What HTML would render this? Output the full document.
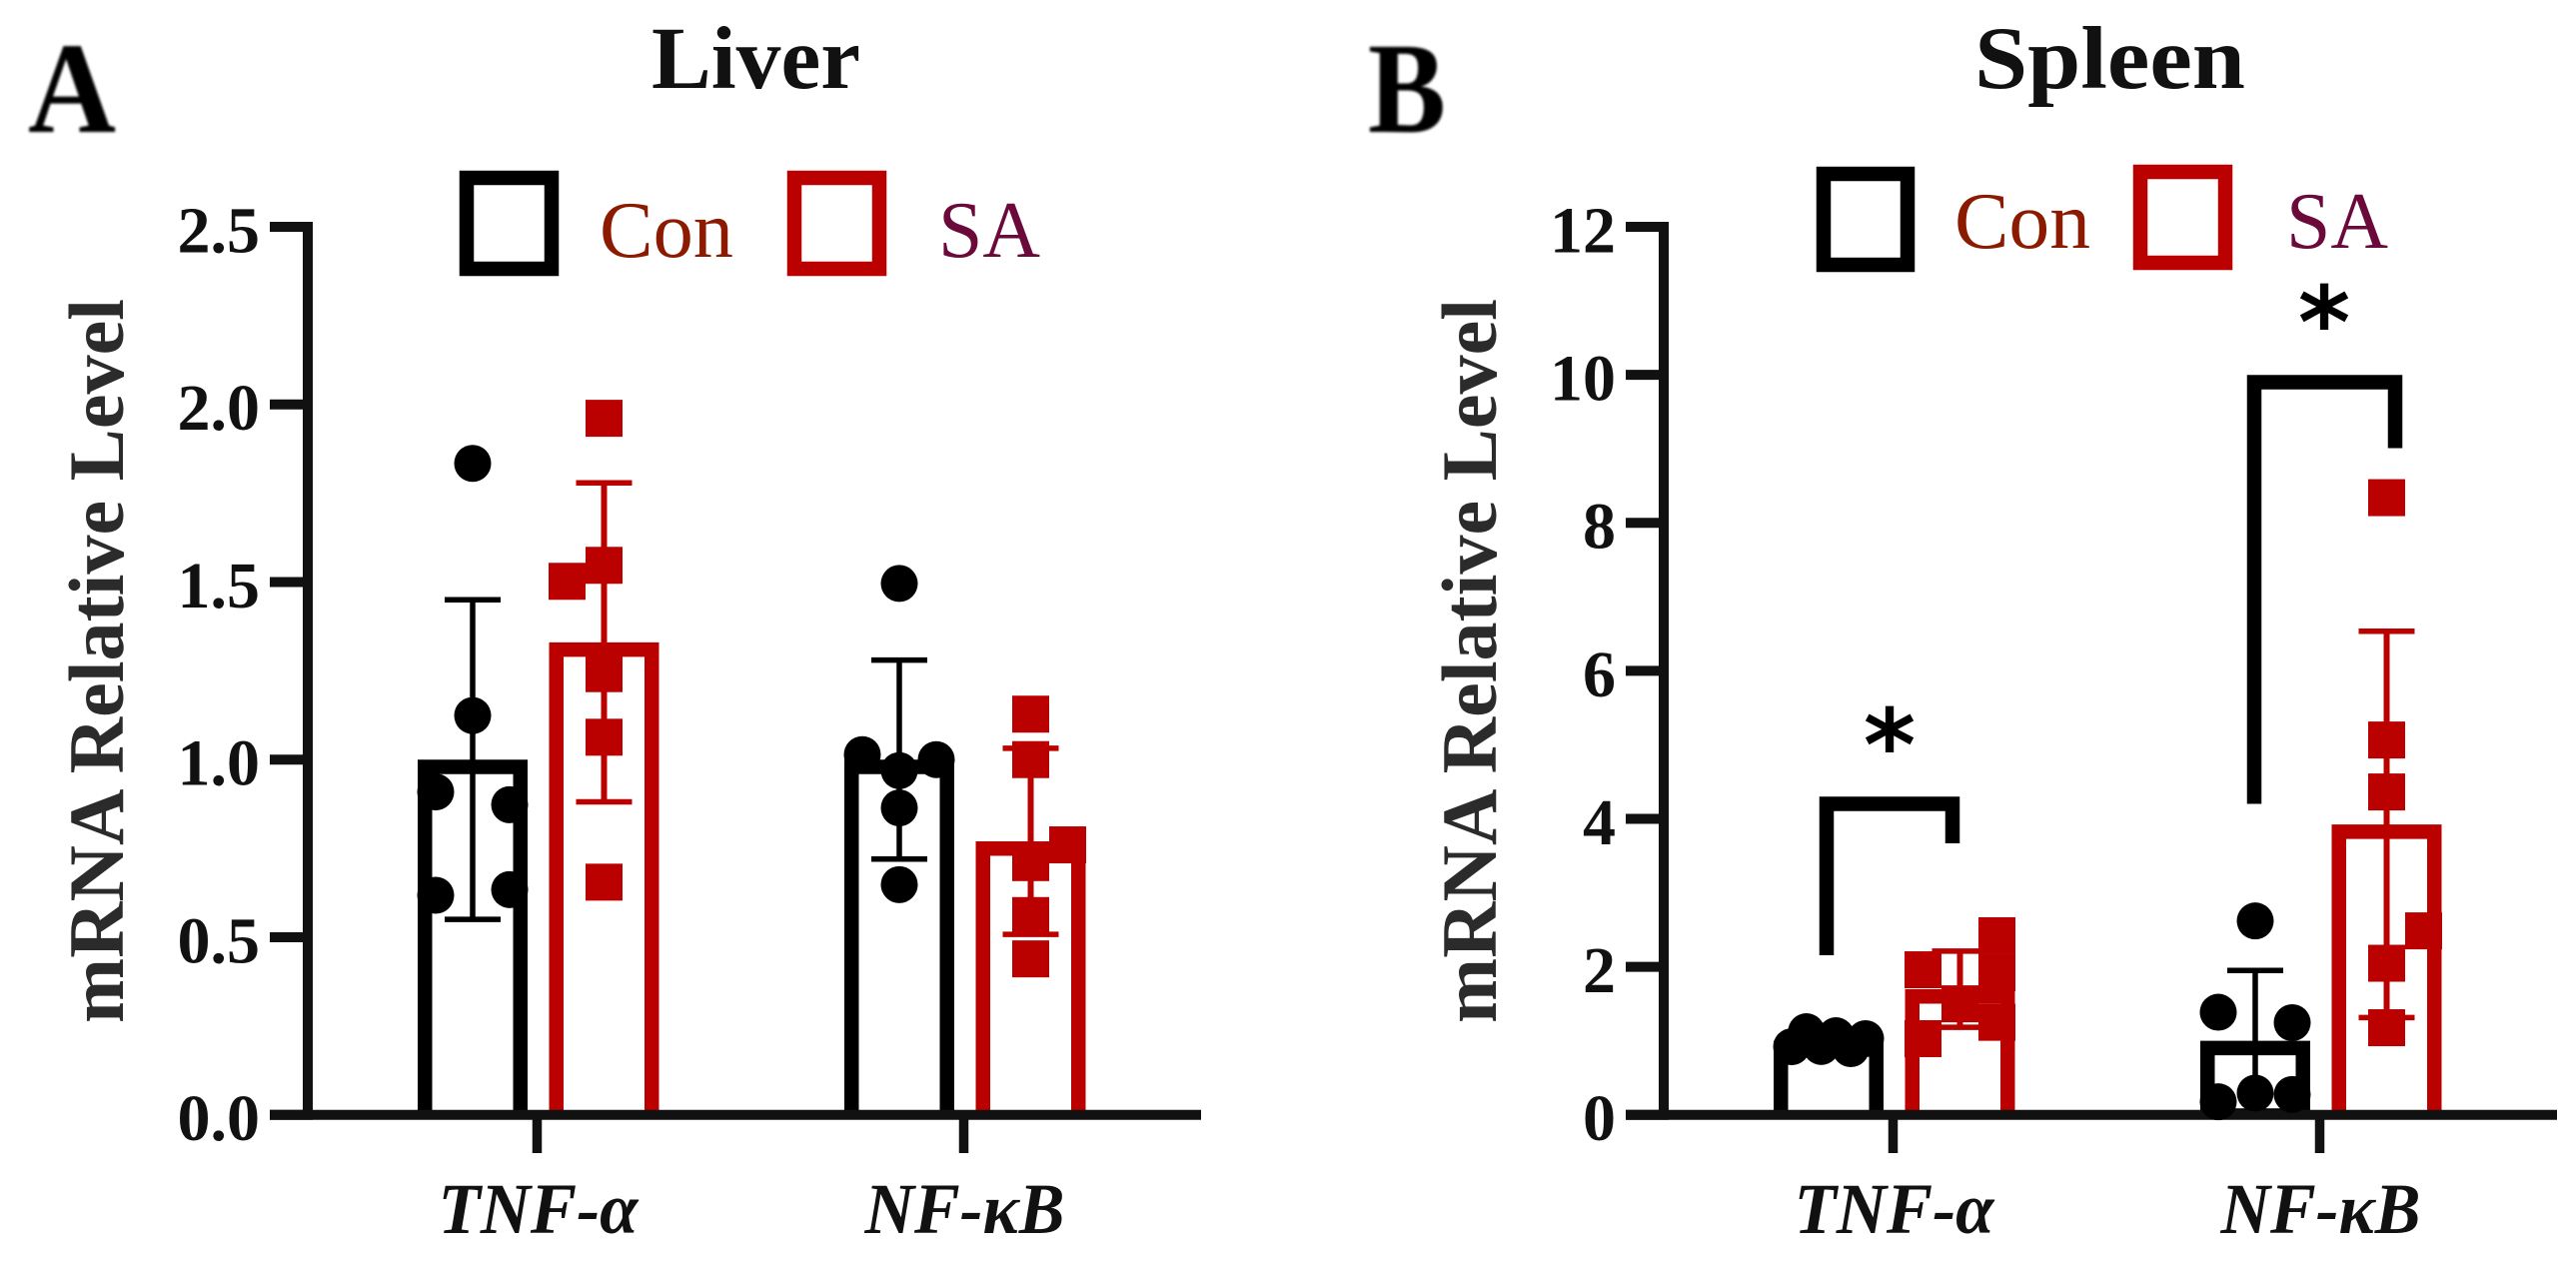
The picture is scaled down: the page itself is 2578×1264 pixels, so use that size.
<!DOCTYPE html>
<html lang="en">
<head>
<meta charset="utf-8">
<title>mRNA Relative Level in Liver and Spleen</title>
<style>
html,body{margin:0;padding:0;background:#fff;}
svg{display:block;}
text{font-family:"Liberation Serif",serif;}
.title{font-size:89px;font-weight:bold;fill:#111;}
.letter{font-size:130px;font-weight:bold;fill:#000;}
.legend-text{font-size:80px;}
.ytitle{font-size:78px;font-weight:bold;fill:#2b2b2b;}
.tick{font-size:66px;font-weight:bold;fill:#111;text-anchor:end;}
.cat{font-size:72px;font-weight:bold;font-style:italic;fill:#111;text-anchor:middle;}
.star{font-family:"DejaVu Sans",sans-serif;font-size:100px;font-weight:bold;fill:#000;text-anchor:middle;}
</style>
</head>
<body>
<svg id="fig" xmlns="http://www.w3.org/2000/svg" width="2578" height="1264" viewBox="0 0 2578 1264">
<defs><filter id="soft" x="-10%" y="-10%" width="120%" height="120%"><feGaussianBlur stdDeviation="1.3"/></filter></defs>
<rect width="2578" height="1264" fill="#fff"/>
<text class="letter" x="28" y="132" filter="url(#soft)" textLength="88" lengthAdjust="spacingAndGlyphs">A</text>
<text class="letter" x="1369" y="132" filter="url(#soft)" textLength="78" lengthAdjust="spacingAndGlyphs">B</text>
<text class="title" x="652" y="88" textLength="209" lengthAdjust="spacingAndGlyphs">Liver</text>
<text class="title" x="1976" y="88" textLength="271" lengthAdjust="spacingAndGlyphs">Spleen</text>

<g>
<rect x="467" y="178" width="85" height="91" fill="none" stroke="#000" stroke-width="14.5"/>
<text class="legend-text" x="600" y="257" fill="#8b1a00" textLength="134" lengthAdjust="spacingAndGlyphs">Con</text>
<rect x="795" y="178" width="85" height="91" fill="none" stroke="#bb0000" stroke-width="14.5"/>
<text class="legend-text" x="939" y="257" fill="#6b0a3a" textLength="102" lengthAdjust="spacingAndGlyphs">SA</text>
</g>
<g>
<rect x="1825" y="174" width="84" height="91" fill="none" stroke="#000" stroke-width="14.5"/>
<text class="legend-text" x="1956" y="248" fill="#8b1a00" textLength="136" lengthAdjust="spacingAndGlyphs">Con</text>
<rect x="2142" y="172" width="85" height="91" fill="none" stroke="#bb0000" stroke-width="14.5"/>
<text class="legend-text" x="2288" y="248" fill="#6b0a3a" textLength="102" lengthAdjust="spacingAndGlyphs">SA</text>
</g>

<text class="ytitle" transform="translate(123,1024) rotate(-90)" textLength="725" lengthAdjust="spacingAndGlyphs">mRNA Relative Level</text>
<text class="ytitle" transform="translate(1497,1024) rotate(-90)" textLength="725" lengthAdjust="spacingAndGlyphs">mRNA Relative Level</text>

<g id="panel-liver"></g>
<g id="panel-spleen"></g>

<g>
<path d="M1828 956V804.5H1954V844" fill="none" stroke="#000" stroke-width="14.5"/>
<text class="star" x="1891" y="781">*</text>
<path d="M2256 804.5V382.5H2397V448.5" fill="none" stroke="#000" stroke-width="14.5"/>
<text class="star" x="2326" y="358">*</text>
</g>
</svg>
<script>
/* shared labels */
const categories = ["TNF-\u03b1", "NF-\u03baB"];
const categoryKeys = ["tnf", "nfkb"];
const seriesNames = ["con", "sa"];

/* liver axis */
const liverTicks = [0, 0.5, 1, 1.5, 2, 2.5];
const liverTickLabels = ["0.0", "0.5", "1.0", "1.5", "2.0", "2.5"];
const liverMax = 2.5;

/* liver bars: TNF, NF */
const liverConMeans = [1.0, 1.0];
const liverConSd = [0.45, 0.28];
const liverSaMeans = [1.33, 0.77];
const liverSaSd = [0.449, 0.262];

/* liver points */
const liverConTnf = [1.834, 1.124, 0.909, 0.873, 0.618, 0.634];
const liverConTnfSlots = [0, 0, -1, 1, -1, 1];
const liverConNf = [1.496, 1.014, 0.969, 1.0, 0.864, 0.648];
const liverConNfSlots = [0, -1, 0, 1, 0, 0];
const liverSaTnf = [1.961, 1.502, 1.547, 1.242, 1.063, 0.655];
const liverSaTnfSlots = [0, -1, 0, 0, 0, 0];
const liverSaNf = [1.128, 1.0, 0.76, 0.71, 0.561, 0.439];
const liverSaNfSlots = [0, 0, 1, 0, 0, 0];

/* spleen axis */
const spleenTicks = [0, 2, 4, 6, 8, 10, 12];
const spleenTickLabels = ["0", "2", "4", "6", "8", "10", "12"];
const spleenMax = 12;

/* spleen bars: TNF, NF */
const spleenConMeans = [1.0, 1.0];
const spleenConSd = [0.1, 0.95];
const spleenSaMeans = [1.697, 3.924];
const spleenSaSd = [0.515, 2.61];

/* spleen points */
const spleenConTnf = [0.92, 1.123, 0.923, 1.069, 0.894, 1.029];
const spleenConTnfSlots = [-1, -0.6, -0.2, 0.2, 0.6, 1];
const spleenConNf = [2.62, 1.386, 1.245, 0.293, 0.176, 0.275];
const spleenConNfSlots = [0, -1, 1, 0, -1, 1];
const spleenSaTnf = [1.96, 1.029, 1.5, 2.42, 1.92, 1.25];
const spleenSaTnfSlots = [-1, -1, 0, 1, 1, 1];
const spleenSaNf = [8.34, 5.065, 4.363, 2.486, 2.048, 1.177];
const spleenSaNfSlots = [0, 0, 0, 1, 0, 0];

const SVG_NS = "http://www.w3.org/2000/svg";
const Y_ZERO = 1115.7, Y_TOP = 227;
const RED = "#bb0000", BLACK = "#000", AXIS = "#111";
const SYMBOL = 37, SLOT = 37, BAR_W = 110, BAR_STROKE = 14.5;

function make(parent, tag, attrs, text) {
  const el = document.createElementNS(SVG_NS, tag);
  for (const k in attrs) el.setAttribute(k, attrs[k]);
  if (text !== undefined) el.textContent = text;
  parent.appendChild(el);
  return el;
}
function yScale(v, max) { return Y_ZERO - (v / max) * (Y_ZERO - Y_TOP); }
function xScale(axisX, cat, ser) { return axisX + 165 + cat * 427 + ser * 131.5; }
function catCenter(axisX, cat) { return axisX + 229.5 + cat * 427; }

function drawAxes(g, axisX, ticks, labels, max) {
  const yAxis = make(g, "line", {x1: axisX, x2: axisX, y1: Y_TOP - 5, y2: Y_ZERO, stroke: AXIS, "stroke-width": 10});
  
  
  ticks.forEach(function (t, i) {
    const y = yScale(t, max);
    const tick = make(g, "line", {x1: axisX - 38, x2: axisX + 5, y1: y, y2: y, stroke: AXIS, "stroke-width": 10});
    
    
    const lab = make(g, "text", {class: "tick", x: axisX - 48, y: y + 25.5}, labels[i]);
    
    
  });
}
function drawXAxis(g, axisX) {
  const xAxis = make(g, "line", {x1: axisX - 38, x2: axisX + 894, y1: Y_ZERO, y2: Y_ZERO, stroke: AXIS, "stroke-width": 10});
  
  
  categories.forEach(function (c, i) {
    const x = catCenter(axisX, i);
    const tick = make(g, "line", {x1: x, x2: x, y1: Y_ZERO, y2: 1154, stroke: AXIS, "stroke-width": 9.5});
    
    
    const lab = make(g, "text", {class: "cat", x: x + 1, y: 1234, textLength: 200, lengthAdjust: "spacingAndGlyphs"}, c);
    
    
  });
}
function drawBar(g, axisX, cat, ser, mean, sd, max, color) {
  const cx = xScale(axisX, cat, ser);
  const top = yScale(mean, max);
  const half = BAR_W / 2 - BAR_STROKE / 2;
  const inset = top + BAR_STROKE / 2;
  const bar = make(g, "path", {
    d: "M" + (cx - half) + " " + Y_ZERO + "V" + inset + "H" + (cx + half) + "V" + Y_ZERO,
    fill: "none", stroke: color, "stroke-width": BAR_STROKE
  });
  
  
  const hi = yScale(mean + sd, max), lo = yScale(mean - sd, max);
  const sw = color === RED ? 6 : 5.5;
  const stem = make(g, "line", {x1: cx, x2: cx, y1: hi, y2: lo, stroke: color, "stroke-width": sw});
  
  
  [hi, lo].forEach(function (y) {
    const cap = make(g, "line", {x1: cx - 28, x2: cx + 28, y1: y, y2: y, stroke: color, "stroke-width": 5.5});
    
    
  });
}
function drawPoints(g, axisX, cat, ser, values, slots, max) {
  values.forEach(function (v, i) {
    const x = xScale(axisX, cat, ser) + slots[i] * SLOT;
    const y = yScale(v, max);
    if (ser === 0) {
      const dot = make(g, "circle", {cx: x, cy: y, r: SYMBOL / 2, fill: BLACK});
      
      
    } else {
      const sq = make(g, "rect", {x: x - SYMBOL / 2, y: y - SYMBOL / 2, width: SYMBOL, height: SYMBOL, fill: RED});
      
      
    }
  });
}

function drawPanel(id, axisX, ticks, labels, max, conMeans, conSd, saMeans, saSd, points) {
  const g = document.getElementById(id);
  drawAxes(g, axisX, ticks, labels, max);
  categories.forEach(function (c, i) {
    drawBar(g, axisX, i, 0, conMeans[i], conSd[i], max, BLACK);
    drawBar(g, axisX, i, 1, saMeans[i], saSd[i], max, RED);
  });
  drawXAxis(g, axisX);
  points.forEach(function (p) { drawPoints(g, axisX, p[0], p[1], p[2], p[3], max); });
}

drawPanel("panel-liver", 308, liverTicks, liverTickLabels, liverMax,
  liverConMeans, liverConSd, liverSaMeans, liverSaSd, [
    [0, 0, liverConTnf, liverConTnfSlots],
    [0, 1, liverSaTnf, liverSaTnfSlots],
    [1, 0, liverConNf, liverConNfSlots],
    [1, 1, liverSaNf, liverSaNfSlots]
  ]);
drawPanel("panel-spleen", 1665, spleenTicks, spleenTickLabels, spleenMax,
  spleenConMeans, spleenConSd, spleenSaMeans, spleenSaSd, [
    [0, 0, spleenConTnf, spleenConTnfSlots],
    [0, 1, spleenSaTnf, spleenSaTnfSlots],
    [1, 0, spleenConNf, spleenConNfSlots],
    [1, 1, spleenSaNf, spleenSaNfSlots]
  ]);
</script>
</body>
</html>
